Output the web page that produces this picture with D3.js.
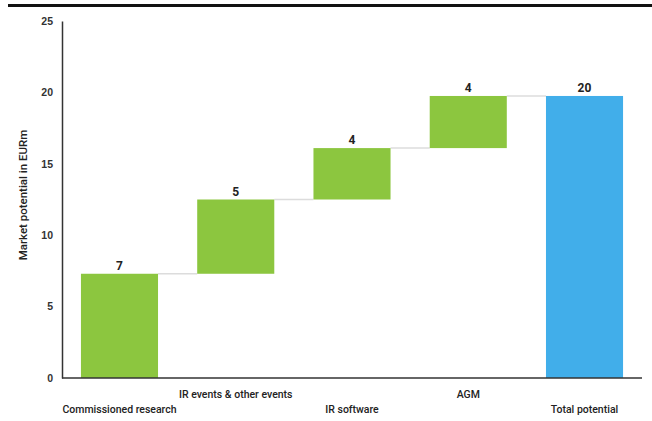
<!DOCTYPE html>
<html>
<head>
<meta charset="utf-8">
<script src="https://cdn.jsdelivr.net/npm/d3@7"></script>
<style>
  html, body { margin: 0; padding: 0; background: #fff; }
  svg { display: block; }
</style>
</head>
<body>
<div id="chart"></div>
<script>
// Waterfall of the addressable market, built up step by step
const categories = ["Commissioned research", "IR events & other events", "IR software", "AGM", "Total potential"];
const increments = [7.3, 5.2, 3.6, 3.65];
const yTicks = [0, 5, 10, 15, 20, 25];
const yTitle = "Market potential in EURm";

const W = 652, H = 421;
const svg = d3.select("#chart").append("svg").attr("width", W).attr("height", H);

// running totals for the floating bars
let run = 0;
const steps = increments.map((v, i) => {
  const s = { cat: categories[i], y0: run, y1: run + v, value: v, total: false };
  run += v;
  return s;
});
steps.push({ cat: categories[4], y0: 0, y1: run, value: run, total: true });

const x = d3.scaleBand().domain(categories).range([62, 642]).paddingInner(0.337).paddingOuter(0.163);
const y = d3.scaleLinear().domain([0, 25]).range([378, 21]);

// heading rule
svg.append("rect").attr("x", 8).attr("y", 4).attr("width", W - 8).attr("height", 3).attr("fill", "#111");

// connectors between consecutive bars
svg.append("g").selectAll("line").data(steps.slice(0, -1)).join("line")
  .attr("x1", (d) => x(d.cat) + x.bandwidth())
  .attr("x2", (d, i) => x(steps[i + 1].cat))
  .attr("y1", (d) => y(d.y1)).attr("y2", (d) => y(d.y1))
  .attr("stroke", "#dcdcdc").attr("stroke-width", 1.5);

// bars
svg.append("g").selectAll("rect").data(steps).join("rect")
  .attr("x", (d) => x(d.cat))
  .attr("width", x.bandwidth())
  .attr("y", (d) => y(d.y1))
  .attr("height", (d) => y(d.y0) - y(d.y1))
  .attr("fill", (d) => d.total ? "#41aeea" : "#8cc63f");

// value labels
svg.append("g").selectAll("text").data(steps).join("text")
  .attr("x", (d) => x(d.cat) + x.bandwidth() / 2)
  .attr("y", (d) => y(d.y1) - 4)
  .attr("text-anchor", "middle")
  .attr("font-family", "Roboto, sans-serif").attr("font-weight", 700)
  .attr("font-size", 12).attr("fill", "#222")
  .text((d) => d3.format(".0f")(d.value));

// y axis
const yAxis = svg.append("g").attr("transform", "translate(62,0)")
  .call(d3.axisLeft(y).tickValues(yTicks).tickSize(0).tickPadding(9));
yAxis.select(".domain").attr("stroke", "#333").attr("stroke-width", 1.5);
yAxis.selectAll("text").attr("font-family", "'Liberation Sans', Arial, sans-serif")
  .attr("font-weight", 700).attr("font-size", 10.5).attr("fill", "#333");

// x axis, labels staggered on two rows
const xAxis = svg.append("g").attr("transform", "translate(0,378)")
  .call(d3.axisBottom(x).tickSize(0));
xAxis.select(".domain").attr("d", "M62,0H642").attr("stroke", "#333").attr("stroke-width", 1.5);
xAxis.selectAll("text")
  .attr("y", (d, i) => i % 2 === 0 ? 31 : 16)
  .attr("dy", "0.35em")
  .attr("font-family", "Roboto, sans-serif").attr("font-weight", 500)
  .attr("font-size", 10.5).attr("fill", "#222");

// y axis title
svg.append("text")
  .attr("transform", "translate(27,195) rotate(-90)")
  .attr("text-anchor", "middle")
  .attr("font-family", "Roboto, sans-serif").attr("font-weight", 500)
  .attr("font-size", 11.5).attr("fill", "#222")
  .text(yTitle);
</script>
</body>
</html>
